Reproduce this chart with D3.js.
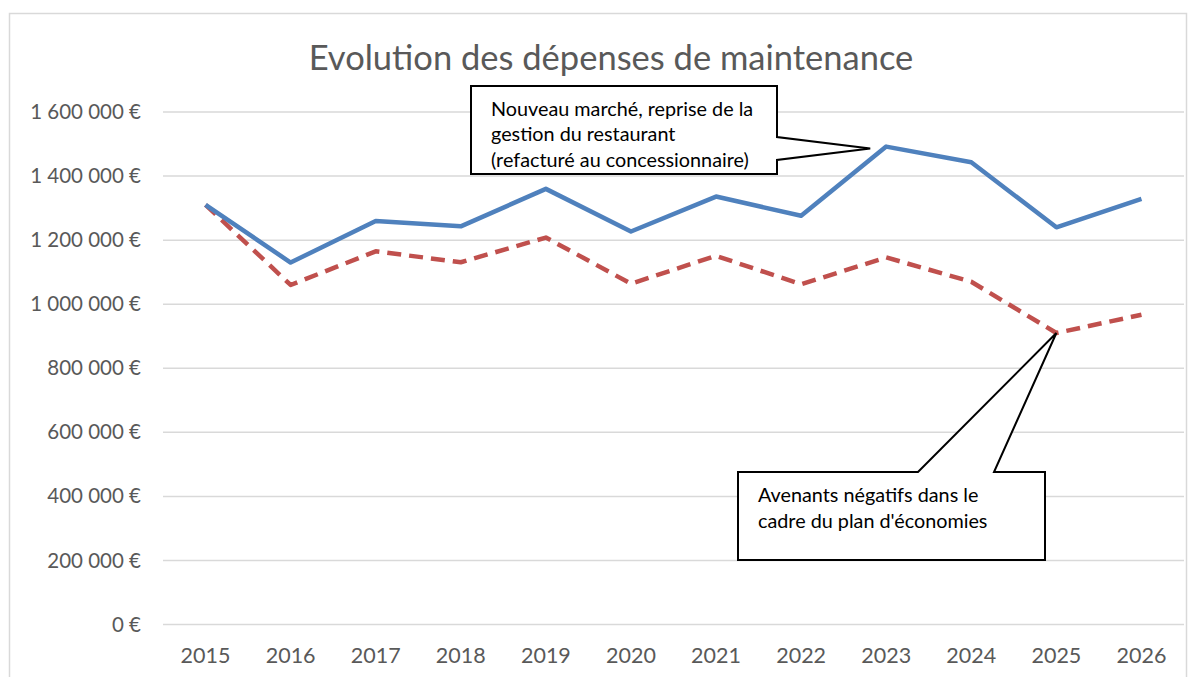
<!DOCTYPE html>
<html>
<head>
<meta charset="utf-8">
<script src="https://cdn.jsdelivr.net/npm/d3@7"></script>
<style>
  body { margin: 0; background: #fff; }
  text { font-family: Lato, "Open Sans", sans-serif; }
</style>
</head>
<body>
<div id="chart"></div>
<script>
// Data
const years = ["2015", "2016", "2017", "2018", "2019", "2020", "2021", "2022", "2023", "2024", "2025", "2026"];
const depensesReelles = [1310000, 1130000, 1260000, 1243000, 1360000, 1227000, 1336000, 1276000, 1492000, 1443000, 1240000, 1329000];
const depensesPlan = [1310000, 1060000, 1165000, 1131000, 1208000, 1064000, 1151000, 1062000, 1146000, 1070000, 910000, 967000];
const yTicks = [0, 200000, 400000, 600000, 800000, 1000000, 1200000, 1400000, 1600000];
const chartTitle = "Evolution des dépenses de maintenance";
const note1 = ["Nouveau marché, reprise de la", "gestion du restaurant", "(refacturé au concessionnaire)"];
const note2 = ["Avenants négatifs dans le", "cadre du plan d'économies"];

const width = 1197, height = 677;
const margin = { top: 112, right: 13, bottom: 52, left: 163 };

const svg = d3.select("#chart").append("svg").attr("width", width).attr("height", height);

// outer chart frame
svg.append("rect")
    .attr("x", 9.5).attr("y", 13.5)
    .attr("width", 1177).attr("height", 700)
    .attr("fill", "none").attr("stroke", "#d9d9d9").attr("stroke-width", 1.5);

const x = d3.scaleBand().domain(years).range([margin.left, width - margin.right]);
const y = d3.scaleLinear().domain([0, 1600000]).range([height - margin.bottom - 0.5, margin.top]);

const locale = d3.formatLocale({ decimal: ",", thousands: "\u00a0", grouping: [3], currency: ["", " €"] });
const fmt = locale.format("$,.0f");

// gridlines
svg.append("g").selectAll("line")
    .data(yTicks).enter().append("line")
    .attr("x1", margin.left).attr("x2", width - margin.right)
    .attr("y1", d => y(d)).attr("y2", d => y(d))
    .attr("stroke", "#d9d9d9").attr("stroke-width", 1.5);

// y axis labels
const yAxis = svg.append("g")
    .attr("transform", `translate(${margin.left},0)`)
    .call(d3.axisLeft(y).tickValues(yTicks).tickFormat(fmt).tickSize(0).tickPadding(22));
yAxis.select(".domain").remove();
yAxis.selectAll("text").attr("fill", "#595959").attr("font-size", "20.5px").style("font-family", "Lato, sans-serif");

// x axis labels
const xAxis = svg.append("g")
    .attr("transform", `translate(0,${y(0)})`)
    .call(d3.axisBottom(x).tickSize(0).tickPadding(23));
xAxis.select(".domain").remove();
xAxis.selectAll("text").attr("fill", "#595959").attr("font-size", "21.5px").style("font-family", "Lato, sans-serif");

// title
svg.append("text")
    .attr("x", 611).attr("y", 70)
    .attr("text-anchor", "middle")
    .attr("fill", "#595959")
    .attr("font-size", "34.5px")
    .text(chartTitle);

const line = d3.line()
    .x((d, i) => x(years[i]) + x.bandwidth() / 2)
    .y(d => y(d));

svg.append("path")
    .datum(depensesPlan)
    .attr("fill", "none")
    .attr("stroke", "#C0504D")
    .attr("stroke-width", 4.5)
    .attr("stroke-dasharray", "14,8")
    .attr("stroke-linejoin", "round")
    .attr("d", line);

svg.append("path")
    .datum(depensesReelles)
    .attr("fill", "none")
    .attr("stroke", "#4F81BD")
    .attr("stroke-width", 4.5)
    .attr("stroke-linejoin", "round")
    .attr("d", line);

// callout 1: points at the 2023 peak
const tip1 = [x("2023") + x.bandwidth() / 2 - 16, y(depensesReelles[8]) + 2];
const b1 = { x0: 471, y0: 86, x1: 777, y1: 174 };
svg.append("path")
    .attr("d", `M${b1.x0},${b1.y0} H${b1.x1} V137 L${tip1[0]},${tip1[1]} L${b1.x1},160 V${b1.y1} H${b1.x0} Z`)
    .attr("fill", "#fff").attr("stroke", "#000").attr("stroke-width", 2);
svg.append("g").selectAll("text")
    .data(note1).enter().append("text")
    .attr("x", 491).attr("y", (d, i) => 116 + i * 25.3)
    .attr("font-size", "19.8px").attr("fill", "#000")
    .text(d => d);

// callout 2: points at the 2025 low of the plan
const tip2 = [x("2025") + x.bandwidth() / 2, y(depensesPlan[10])];
const b2 = { x0: 738, y0: 472, x1: 1045, y1: 560 };
svg.append("path")
    .attr("d", `M${b2.x0},${b2.y0} H918 L${tip2[0]},${tip2[1]} L994,${b2.y0} H${b2.x1} V${b2.y1} H${b2.x0} Z`)
    .attr("fill", "#fff").attr("stroke", "#000").attr("stroke-width", 2);
svg.append("g").selectAll("text")
    .data(note2).enter().append("text")
    .attr("x", 758).attr("y", (d, i) => 502 + i * 25.5)
    .attr("font-size", "19.8px").attr("fill", "#000")
    .text(d => d);
</script>
</body>
</html>
